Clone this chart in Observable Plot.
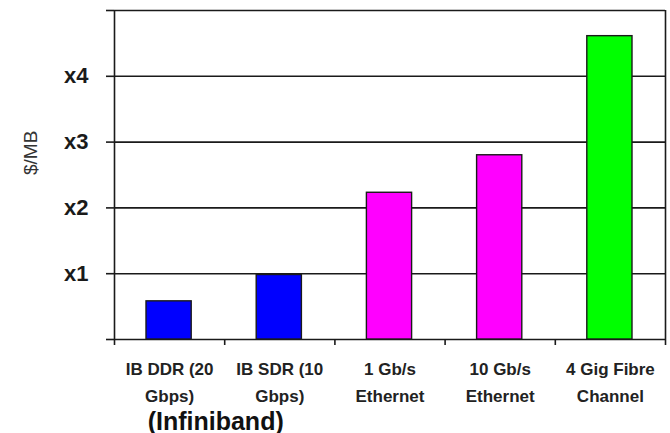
<!DOCTYPE html>
<html>
<head>
<meta charset="utf-8">
<script src="https://cdn.jsdelivr.net/npm/d3@7"></script>
<script src="https://cdn.jsdelivr.net/npm/@observablehq/plot@0.6"></script>
<style>
  html, body { margin: 0; padding: 0; background: #fff; }
  #chart svg { font-family: "Liberation Sans", Arial, sans-serif; }
  #chart g[aria-label="y-axis tick label"] text { font-weight: bold; }
  #chart g[aria-label="category labels"] text { letter-spacing: 0.7px; }
  #chart g[aria-label="group label"] text { letter-spacing: 0.8px; }
</style>
</head>
<body>
<div id="chart"></div>
<script>
const categories = ["IB DDR (20\nGbps)", "IB SDR (10\nGbps)", "1 Gb/s\nEthernet", "10 Gb/s\nEthernet", "4 Gig Fibre\nChannel"];
const values = [0.58, 0.98, 2.23, 2.80, 4.61];
const colors = ["#0000ff", "#0000ff", "#ff00ff", "#ff00ff", "#00ff00"];
const yTicks = [0, 1, 2, 3, 4, 5];
const yTickLabels = ["", "x1", "x2", "x3", "x4", ""];
const boundaries = [0, 1, 2, 3, 4, 5];
const groupLabel = "(Infiniband)";
const yLabel = "$/MB";

const data = categories.map((c, i) => ({i, label: c, value: values[i], color: colors[i]}));
const ink = "#1a1a1a";

const chart = Plot.plot({
  width: 670,
  height: 433,
  marginLeft: 114,
  marginRight: 5,
  marginTop: 10,
  marginBottom: 94,
  x: {domain: [0, 5], axis: null},
  y: {domain: [0, 5], axis: null},
  marks: [
    Plot.ruleY(yTicks, {stroke: ink, strokeWidth: 1.6}),
    Plot.ruleX([0, 5], {y1: 0, y2: 5, stroke: ink, strokeWidth: 1.6}),
    Plot.rectY(data, {x1: d => d.i, x2: d => d.i + 1, y: "value", insetLeft: 32, insetRight: 33,
      fill: d => d.color, stroke: ink, strokeWidth: 1.4}),
    Plot.axisX({ticks: boundaries, tickSize: 6, tickFormat: () => "", stroke: ink, strokeWidth: 1.6}),
    Plot.axisY({ticks: yTicks, tickSize: 8, tickPadding: 18, tickFormat: i => yTickLabels[i],
      fontSize: 22, stroke: ink, strokeWidth: 1.6, label: null, fill: ink}),
    Plot.text(data, {x: d => d.i + 0.5, y: 0, text: "label", lineAnchor: "top", dy: 17,
      lineHeight: 1.55, fontSize: 17, fontWeight: "bold", fill: "#222", ariaLabel: "category labels"}),
    Plot.text([groupLabel], {x: 1, y: 0, dx: -9, dy: 82, text: d => d, fontSize: 25,
      fontWeight: "bold", fill: "#111", ariaLabel: "group label"}),
    Plot.text([yLabel], {frameAnchor: "left", dx: -84, text: d => d, rotate: -90,
      fontSize: 19, fill: "#333"})
  ]
});
document.getElementById("chart").appendChild(chart);
</script>
</body>
</html>
